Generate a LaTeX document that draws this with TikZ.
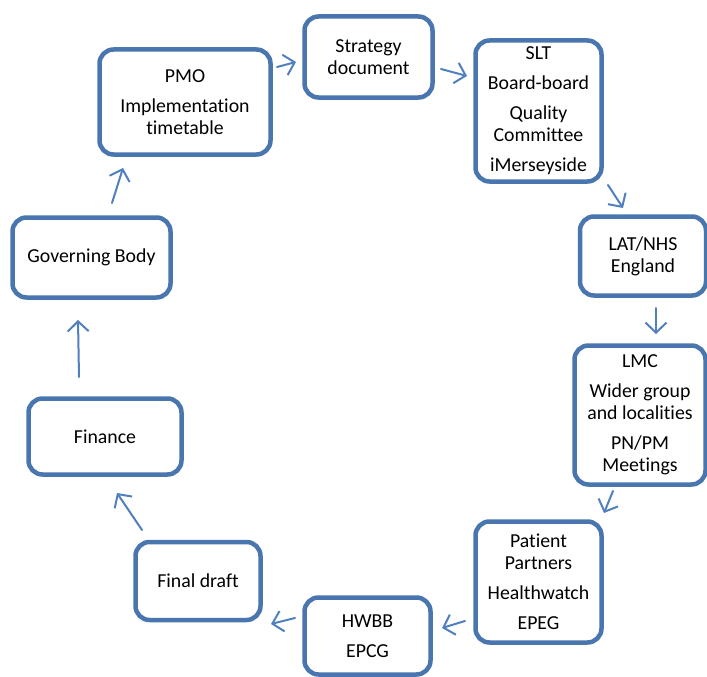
\documentclass[tikz,border=0pt]{standalone}
\usepackage{fontspec}
\setmainfont{Carlito}[Ligatures=NoCommon]
\usetikzlibrary{arrows.meta}
\definecolor{boxblue}{RGB}{74,118,175}
\definecolor{arrblue}{RGB}{80,128,190}
\begin{document}
\begin{tikzpicture}[x=1pt,y=-1pt,
  box/.style={draw=boxblue, line width=4.5pt, rounded corners=14pt, fill=white,
    align=center, font=\fontsize{19.8}{22}\selectfont, inner sep=0pt},
  flow/.style={draw=arrblue, line width=2pt, line cap=round,
    -{Straight Barb[length=10pt,width=21pt,line width=2pt]}}]
\useasboundingbox (0,0) rectangle (707,677);
% boxes
\node[box, minimum width=171pt, minimum height=105pt] (pmo) at (185,102)
  {PMO\\[8pt]Implementation\\timetable};
\node[box, minimum width=128pt, minimum height=81pt] (strat) at (368.5,57)
  {Strategy\\document};
\node[box, minimum width=126pt, minimum height=141pt] (slt) at (538.5,111)
  {SLT\\[8pt]Board-board\\[8pt]Quality\\Committee\\[8pt]iMerseyside};
\node[box, minimum width=126pt, minimum height=79pt] (lat) at (643,256)
  {LAT/NHS\\England};
\node[box, minimum width=131pt, minimum height=139pt] (lmc) at (640,415)
  {LMC\\[8pt]Wider group\\and localities\\[8pt]PN/PM\\Meetings};
\node[box, minimum width=126pt, minimum height=121pt] (pat) at (538.5,582)
  {Patient\\Partners\\[8pt]Healthwatch\\[8pt]EPEG};
\node[box, minimum width=126pt, minimum height=77pt] (hwbb) at (367.5,636)
  {HWBB\\[8pt]EPCG};
\node[box, minimum width=125pt, minimum height=78pt] (final) at (198,581)
  {Final draft};
\node[box, minimum width=153pt, minimum height=76pt] (fin) at (105,436.5)
  {Finance};
\node[box, minimum width=158pt, minimum height=80pt] (gov) at (91.5,257.5)
  {Governing Body};
% arrow end points
\coordinate (a1s) at (277,67);  \coordinate (a1e) at (296,62);
\coordinate (a2s) at (441,69);  \coordinate (a2e) at (467,76);
\coordinate (a3s) at (608,185); \coordinate (a3e) at (623,208);
\coordinate (a4s) at (656,308); \coordinate (a4e) at (656,334);
\coordinate (a5s) at (613,491); \coordinate (a5e) at (604,513);
\coordinate (a6s) at (465,621); \coordinate (a6e) at (442,628);
\coordinate (a7s) at (295,618); \coordinate (a7e) at (271,624);
\coordinate (a8s) at (142,530); \coordinate (a8e) at (117,493);
\coordinate (a9s) at (79,377);  \coordinate (a9e) at (78,320);
\coordinate (a10s) at (112,203); \coordinate (a10e) at (123,168);
% connectors
\draw[flow] (a1s) -- (a1e);
\draw[flow] (a2s) -- (a2e);
\draw[flow] (a3s) -- (a3e);
\draw[flow] (a4s) -- (a4e);
\draw[flow] (a5s) -- (a5e);
\draw[flow] (a6s) -- (a6e);
\draw[flow] (a7s) -- (a7e);
\draw[flow] (a8s) -- (a8e);
\draw[flow] (a9s) -- (a9e);
\draw[flow] (a10s) -- (a10e);
\end{tikzpicture}
\end{document}
